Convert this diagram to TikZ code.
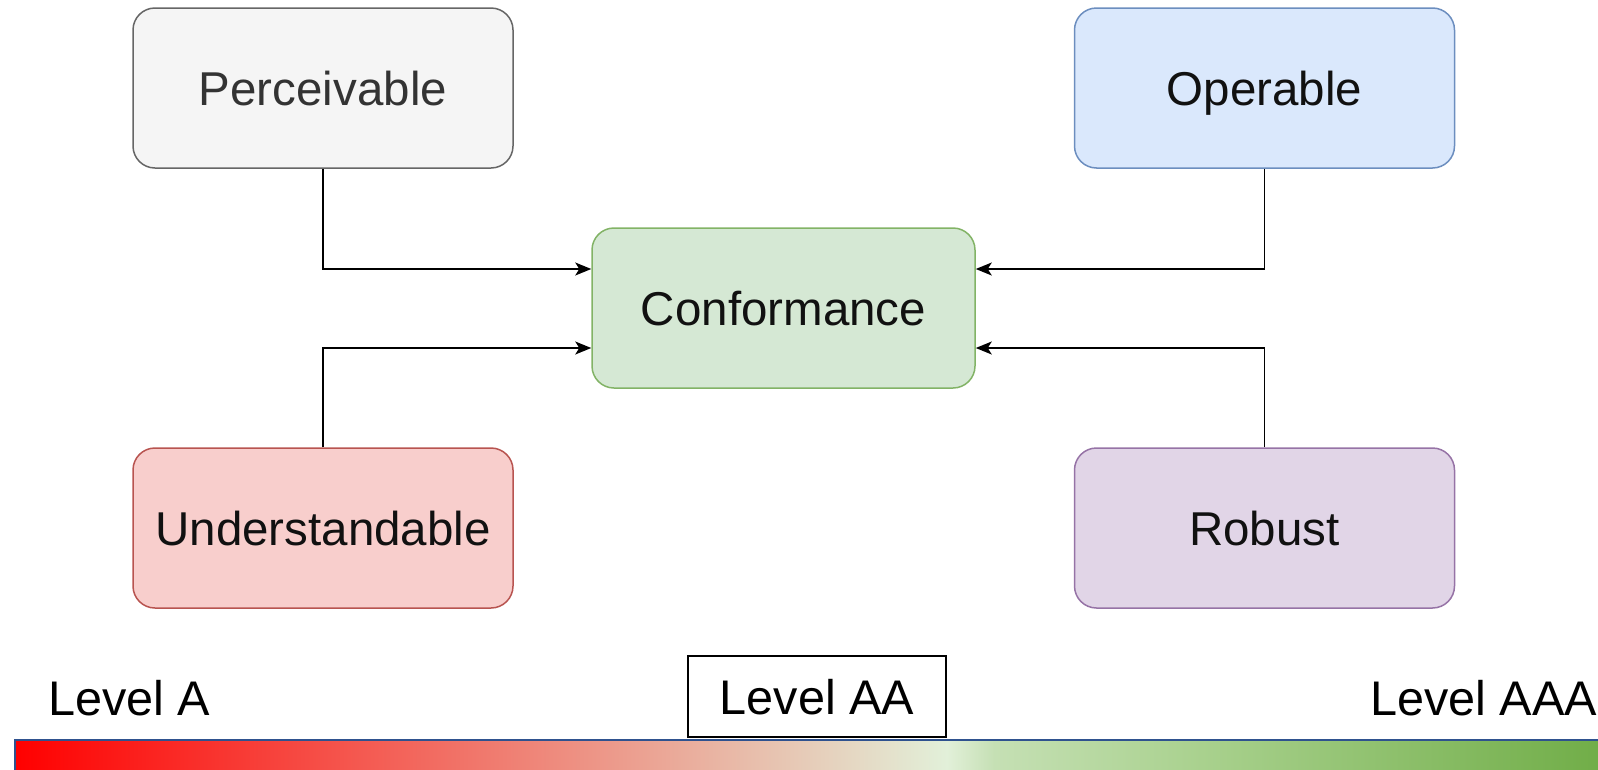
\documentclass[tikz,border=0pt]{standalone}
\usepackage{fontspec}
\setmainfont{Liberation Sans}
\usetikzlibrary{arrows.meta}
\definecolor{pfill}{HTML}{F5F5F5}\definecolor{pdraw}{HTML}{666666}
\definecolor{ofill}{HTML}{DAE8FC}\definecolor{odraw}{HTML}{6C8EBF}
\definecolor{cfill}{HTML}{D5E8D4}\definecolor{cdraw}{HTML}{82B366}
\definecolor{ufill}{HTML}{F8CECC}\definecolor{udraw}{HTML}{B85450}
\definecolor{rfill}{HTML}{E1D5E7}\definecolor{rdraw}{HTML}{9673A6}
\definecolor{ptext}{HTML}{333333}\definecolor{btext}{HTML}{111111}
\definecolor{barblue}{HTML}{2F528F}
\pgfdeclarehorizontalshading{levelbar}{100bp}{
rgb(0bp)=(1,0,0);
rgb(25bp)=(1,0,0);
rgb(54.3bp)=(0.886,0.941,0.851);
rgb(55.8bp)=(0.773,0.878,0.706);
rgb(62.3bp)=(0.663,0.820,0.557);
rgb(75bp)=(0.439,0.678,0.278);
rgb(100bp)=(0.439,0.678,0.278)}
\begin{document}
\begin{tikzpicture}[x=1pt,y=-1pt,
  box/.style={rectangle, rounded corners=22pt, minimum width=380pt, minimum height=160pt,
    line width=1.5pt, inner sep=0pt, text height=34pt, text depth=0pt,
    font=\fontsize{47.5}{57}\selectfont, text=btext},
  lvl/.style={inner sep=0pt, font=\fontsize{48.6}{58}\selectfont, text=black},
  arr/.style={line width=1.5pt, -{Stealth[length=16pt,width=13pt,inset=4pt]}}]
\useasboundingbox (0,0) rectangle (1598,769);
\clip (0,0) rectangle (1598,769);
\node[box, fill=pfill, draw=pdraw, text=ptext] (perc) at (323,88) {Perceivable};
\node[box, fill=ofill, draw=odraw] (oper) at (1264.5,88) {Operable};
\node[box, fill=ufill, draw=udraw] (unde) at (323,528) {Understandable};
\node[box, fill=rfill, draw=rdraw] (robu) at (1264.5,528) {Robust};
\node[box, fill=cfill, draw=cdraw, minimum width=383pt] (conf) at (783.5,308) {Conformance};
\draw[arr] (perc.south) |- ([yshift=39pt]conf.west);
\draw[arr] (unde.north) |- ([yshift=-40pt]conf.west);
\draw[arr] (oper.south) |- ([yshift=39pt]conf.east);
\draw[arr] (robu.north) |- ([yshift=-40pt]conf.east);
\path[draw=barblue, line width=2pt, shading=levelbar] (15,740) rectangle (1605,790);
\node[lvl, anchor=base west] (la) at (48,715) {Level A};
\node[lvl, anchor=base west] (laaa) at (1370,715) {Level AAA};
\node[lvl, draw=black, line width=2pt, minimum width=258pt, minimum height=81pt,
  text height=35pt, text depth=0pt] (laa) at (817,696.5) {Level AA};
\end{tikzpicture}
\end{document}
